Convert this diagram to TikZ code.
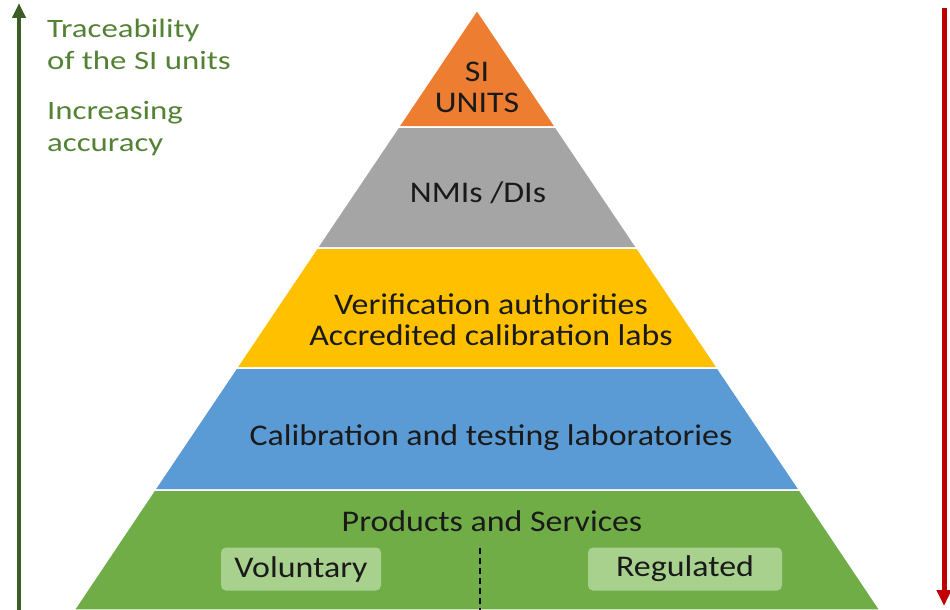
\documentclass[tikz,border=0pt]{standalone}
\usepackage{fontspec}
\setmainfont{Carlito}
\newfontfamily\pyrfont[FakeStretch=1.13]{Carlito}
\newfontfamily\sidefont[FakeStretch=1.24]{Carlito}
\usetikzlibrary{arrows.meta}
\definecolor{cOrange}{HTML}{ED7D31}
\definecolor{cGrey}{HTML}{A5A5A5}
\definecolor{cYellow}{HTML}{FFC000}
\definecolor{cBlue}{HTML}{5B9BD5}
\definecolor{cGreen}{HTML}{70AD47}
\definecolor{cBox}{HTML}{A9D18E}
\definecolor{cDarkGreen}{HTML}{3B5E25}
\definecolor{cTextGreen}{HTML}{548235}
\definecolor{cRed}{HTML}{C00000}
\definecolor{cText}{HTML}{1A1A1A}
\tikzset{
  band/.style={draw=white,line width=1.5pt},
  lbl/.style={text=cText,font=\pyrfont\fontsize{30}{31}\selectfont,align=center,inner sep=0pt},
  side/.style={text=cTextGreen,font=\sidefont\fontsize{26.5}{32}\selectfont,align=left,anchor=west,inner sep=0pt},
  tag/.style={fill=cBox,rounded corners=5pt,minimum height=43pt,inner sep=0pt,text=cText,font=\pyrfont\fontsize{30}{31}\selectfont},
}
\begin{document}
\begin{tikzpicture}[x=1pt,y=-1pt]
\useasboundingbox (0,0) rectangle (950,610);
% pyramid bands
\fill[cOrange,band] (477,10) -- (555.6,127) -- (398.4,127) -- cycle;
\fill[cGrey,band] (398.4,127) -- (555.6,127) -- (637,248) -- (317,248) -- cycle;
\fill[cYellow,band] (317,248) -- (637,248) -- (717.6,368) -- (236.4,368) -- cycle;
\fill[cBlue,band] (236.4,368) -- (717.6,368) -- (799.6,490) -- (154.4,490) -- cycle;
\fill[cGreen,band] (154.4,490) -- (799.6,490) -- (880,610) -- (74,610) -- cycle;
% labels
\node[lbl] (si) at (477,87) {SI\\UNITS};
\node[lbl] (nmi) at (478,193) {NMIs /DIs};
\node[lbl] (ver) at (491,320) {Verification authorities\\Accredited calibration labs};
\node[lbl] (cal) at (491,438) {Calibration and testing laboratories};
\node[lbl] (prod) at (492,521) {Products and Services};
\node[tag,minimum width=160pt] (vol) at (301,569) {Voluntary};
\node[tag,minimum width=194pt] (reg) at (685,569) {Regulated};
\coordinate (d1) at (480,548);
\coordinate (d2) at (480,610);
\draw[black,line width=2pt,dash pattern=on 6pt off 4pt] (d1) -- (d2);
% side texts
\node[side] (trace) at (47,44) {Traceability\\of the SI units};
\node[side] (acc) at (47,129) {Increasing\\accuracy};
% arrows
\coordinate (g1) at (19,610);
\coordinate (g2) at (19,3);
\draw[cDarkGreen,line width=4pt,-{Triangle[width=13pt,length=15pt]}] (g1) -- (g2);
\coordinate (r1) at (944,8);
\coordinate (r2) at (944,606);
\draw[cRed,line width=5pt,-{Triangle[width=14pt,length=16pt]}] (r1) -- (r2);
\end{tikzpicture}
\end{document}
